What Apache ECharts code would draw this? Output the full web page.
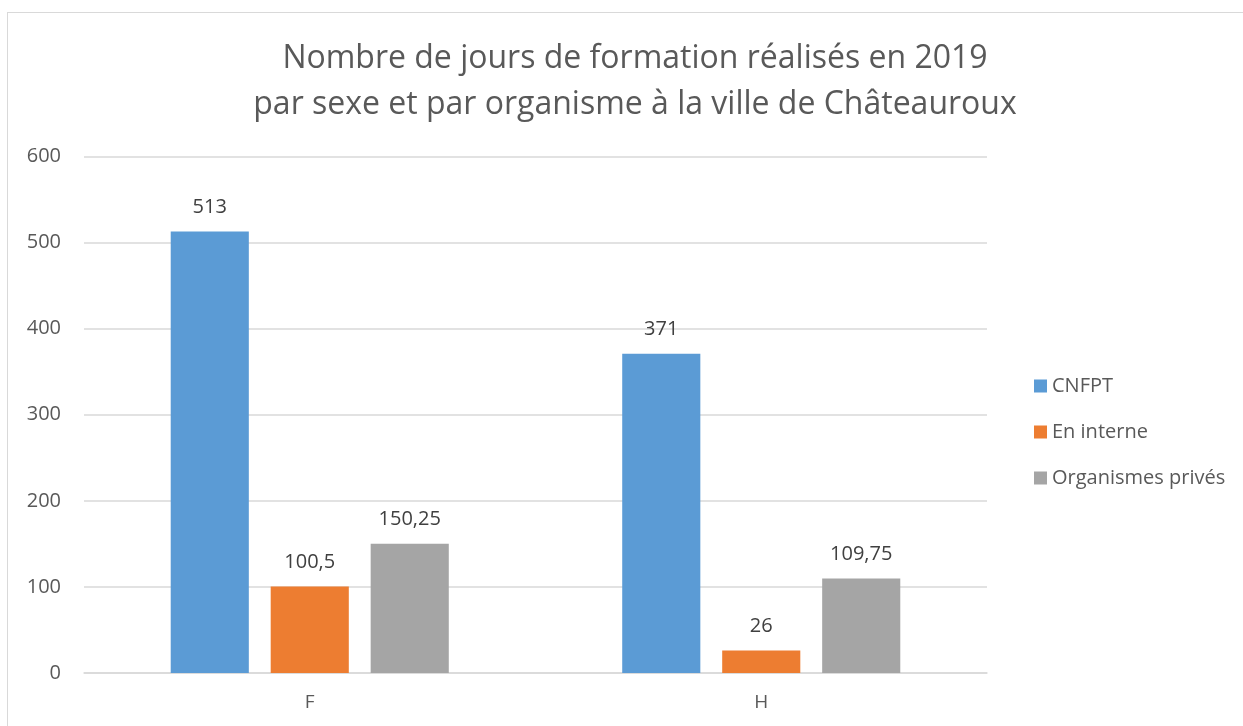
<!DOCTYPE html>
<html><head><meta charset="utf-8">
<script src="https://cdn.jsdelivr.net/npm/echarts@6/dist/echarts.min.js"></script>
<style>html,body{margin:0;padding:0;background:#fff}#c{width:1243px;height:726px}
#frame{position:absolute;left:7px;top:12px;width:1240px;height:720px;border:1px solid #d9d9d9;pointer-events:none}</style>
</head><body><div id="c"></div><div id="frame"></div>
<script>
const titleLines = ["Nombre de jours de formation réalisés en 2019", "par sexe et par organisme à la ville de Châteauroux"];
const categories = ["F", "H"];
const seriesNames = ["CNFPT", "En interne", "Organismes privés"];
const cnfpt = [513, 371];
const enInterne = [100.5, 26];
const organismesPrives = [150.25, 109.75];
const yTicks = [0, 100, 200, 300, 400, 500, 600];
const colors = ["#5b9bd5", "#ed7d31", "#a5a5a5"];
const values = [cnfpt, enInterne, organismesPrives];
const font = "'Open Sans', 'Liberation Sans', sans-serif";
const chart = echarts.init(document.getElementById('c'), null, {renderer: 'canvas'});
chart.setOption({
  animation: false,
  textStyle: {fontFamily: font},
  title: {
    text: titleLines.join("\n"),
    left: 630, top: 31, textAlign: 'center',
    textStyle: {fontSize: 32, fontWeight: 'normal', color: '#595959', lineHeight: 46, fontFamily: font}
  },
  legend: {
    orient: 'vertical', left: 1029, top: 370,
    itemWidth: 13, itemHeight: 13, itemGap: 24, icon: 'rect',
    textStyle: {fontSize: 20, color: '#595959', fontFamily: font, lineHeight: 22},
    data: seriesNames
  },
  grid: {left: 84, right: 256, top: 156.5, bottom: 53},
  xAxis: {
    type: 'category', data: categories,
    axisLine: {lineStyle: {color: '#d9d9d9', width: 1.5}},
    axisTick: {show: false},
    axisLabel: {fontSize: 19, color: '#595959', margin: 20, fontFamily: font}
  },
  yAxis: {
    type: 'value', min: 0, max: 600, interval: 100,
    axisLine: {show: false}, axisTick: {show: false},
    splitLine: {lineStyle: {color: '#d9d9d9', width: 1.5}},
    axisLabel: {fontSize: 20, color: '#595959', margin: 23, fontFamily: font,
      formatter: v => yTicks.includes(v) ? String(v) : ''}
  },
  series: seriesNames.map((n, i) => ({
    name: n, type: 'bar', data: values[i],
    barWidth: '17.3%', barGap: '28%',
    itemStyle: {color: colors[i]},
    label: {show: true, position: 'top', distance: 14, fontSize: 20, color: '#404040', fontFamily: font,
      formatter: p => String(p.value).replace('.', ',')}
  }))
});
</script></body></html>
